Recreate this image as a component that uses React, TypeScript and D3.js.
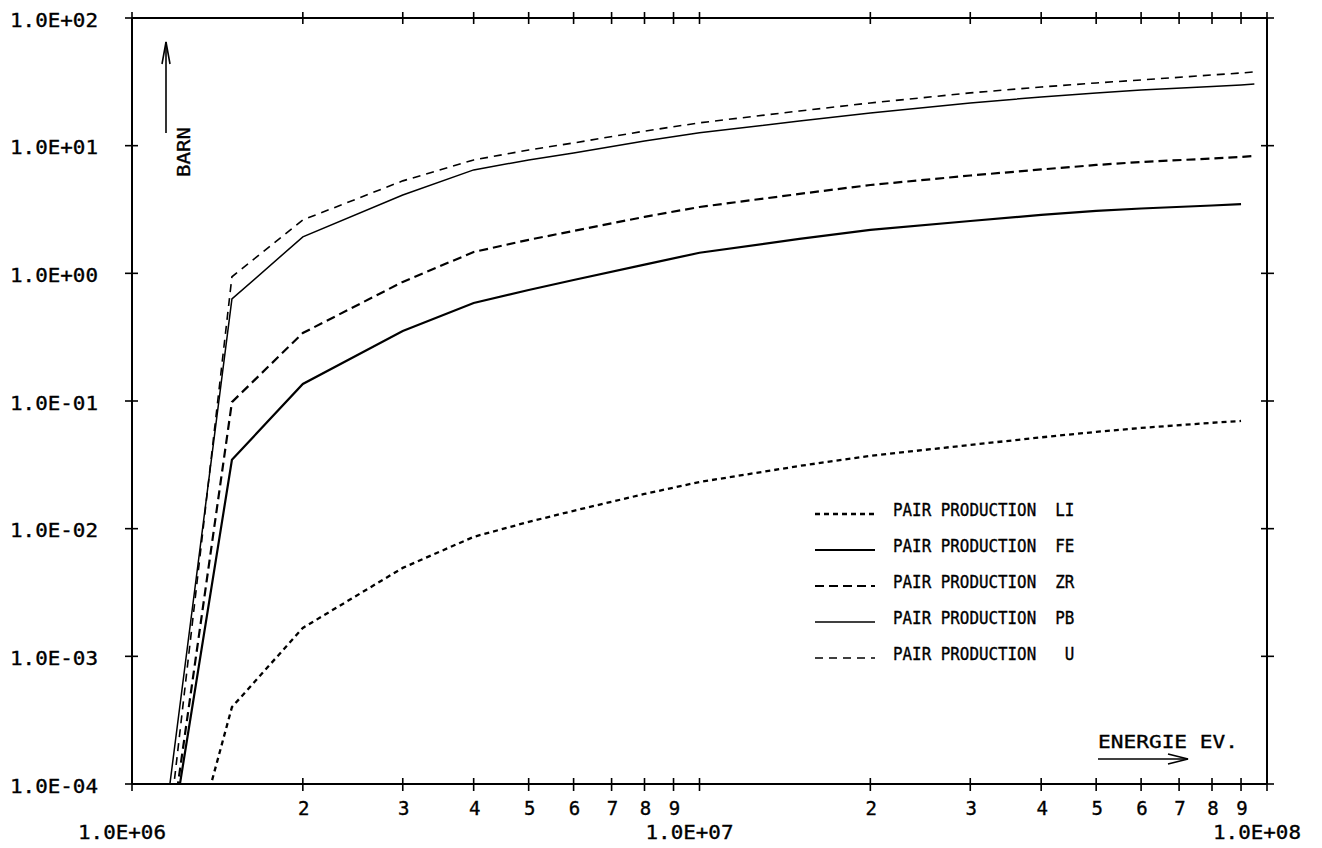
import React from 'react';
import * as d3 from 'd3';

const energies = [1.1e6, 1.5e6, 2e6, 3e6, 4e6, 5e6, 6e6, 8e6, 1e7, 1.5e7, 2e7, 3e7, 4e7, 5e7, 6e7, 8e7, 9e7, 9.5e7];
const li = [2.5e-6, 4.0e-4, 0.00167, 0.00493, 0.00863, 0.0113, 0.0138, 0.0187, 0.0232, 0.031, 0.0372, 0.0453, 0.0519, 0.0573, 0.0615, 0.0675, 0.0698, null];
const fe = [6.4e-6, 0.0346, 0.136, 0.354, 0.586, 0.741, 0.887, 1.17, 1.45, 1.86, 2.19, 2.57, 2.87, 3.08, 3.22, 3.4, 3.49, null];
const zr = [5.7e-6, 0.098, 0.341, 0.857, 1.47, 1.83, 2.15, 2.77, 3.31, 4.19, 4.92, 5.84, 6.51, 7.06, 7.45, 7.94, 8.17, 8.3];
const pb = [1.31e-5, 0.63, 1.93, 4.11, 6.46, 7.73, 8.77, 10.9, 12.6, 15.6, 18.0, 21.6, 24.1, 25.9, 27.3, 29.1, 29.9, 30.4];
const u = [5.4e-6, 0.94, 2.62, 5.3, 7.73, 9.25, 10.5, 13.0, 15.1, 18.7, 21.6, 25.9, 28.8, 31.0, 32.7, 35.8, 37.1, 37.8];

const seriesNames = ['LI', 'FE', 'ZR', 'PB', 'U'];
const legendLabels = ['PAIR PRODUCTION  LI', 'PAIR PRODUCTION  FE', 'PAIR PRODUCTION  ZR', 'PAIR PRODUCTION  PB', 'PAIR PRODUCTION   U'];
const xMajorTicks = [1e6, 1e7, 1e8];
const xMinorDigits = [2, 3, 4, 5, 6, 7, 8, 9];
const yMajorTicks = [1e-4, 1e-3, 1e-2, 1e-1, 1e0, 1e1, 1e2];

const styles: Record<string, { dash: string; width: number }> = {
  LI: { dash: '5,4', width: 2.3 },
  FE: { dash: '', width: 2.2 },
  ZR: { dash: '9,5', width: 2.2 },
  PB: { dash: '', width: 1.5 },
  U: { dash: '8,6', width: 1.6 },
};

const FONT = '"DejaVu Sans Mono", monospace';

function expLabel(v: number) {
  const e = Math.round(Math.log10(v));
  return `1.0E${e >= 0 ? '+' : '-'}${String(Math.abs(e)).padStart(2, '0')}`;
}

export default function App() {
  const left = 132, right = 1267, top = 18, bottom = 784;
  const x = d3.scaleLog().domain([1e6, 1e8]).range([left, right]);
  const y = d3.scaleLog().domain([1e-4, 1e2]).range([bottom, top]);
  const data: Record<string, (number | null)[]> = { LI: li, FE: fe, ZR: zr, PB: pb, U: u };
  const line = d3
    .line<[number, number | null]>()
    .defined((d) => d[1] != null)
    .x((d) => x(d[0]))
    .y((d) => y(d[1] as number));

  const minorTicks: number[] = [];
  for (const dec of [1e6, 1e7]) for (const m of xMinorDigits) minorTicks.push(dec * m);

  const legendY = [510, 546, 582, 618, 654];
  const textStroke = { stroke: '#000', strokeWidth: 0.35 };

  return (
    <svg width={1322} height={848} style={{ position: 'absolute', left: 0, top: 0, background: '#fff' }}>
      <rect x={0} y={0} width={1322} height={848} fill="#fff" />
      <defs>
        <clipPath id="plot">
          <rect x={left} y={top} width={right - left} height={bottom - top} />
        </clipPath>
      </defs>
      <g stroke="#000" strokeWidth={2} fill="none">
        <line x1={left} y1={top} x2={right} y2={top} />
        <line x1={left} y1={bottom} x2={right} y2={bottom} />
        <line x1={left} y1={top} x2={left} y2={bottom} />
        <line x1={right} y1={top} x2={right} y2={bottom} />
      </g>
      <g stroke="#000" strokeWidth={1.6}>
        {yMajorTicks.map((t) => (
          <g key={t}>
            <line x1={left - 7} x2={left + 6} y1={y(t)} y2={y(t)} />
            <line x1={right - 6} x2={right + 7} y1={y(t)} y2={y(t)} />
          </g>
        ))}
        {[...xMajorTicks, ...minorTicks].map((t) => (
          <g key={t}>
            <line x1={x(t)} x2={x(t)} y1={top - 6} y2={top + 6} />
            <line x1={x(t)} x2={x(t)} y1={bottom - 6} y2={bottom + 7} />
          </g>
        ))}
      </g>
      <g fontFamily={FONT} fontSize={19} fill="#000" {...textStroke}>
        {yMajorTicks.map((t) => (
          <text key={t} x={10} y={y(t) + 8.5} textLength={88} lengthAdjust="spacingAndGlyphs">
            {expLabel(t)}
          </text>
        ))}
        {xMajorTicks.map((t) => (
          <text key={t} x={x(t) - 54} y={839} textLength={88} lengthAdjust="spacingAndGlyphs">
            {expLabel(t)}
          </text>
        ))}
        {minorTicks.map((t) => (
          <text key={t} x={x(t) + 1} y={815} textAnchor="middle">
            {String(Math.round(t / Math.pow(10, Math.floor(Math.log10(t)))))}
          </text>
        ))}
      </g>
      <g clipPath="url(#plot)" fill="none" stroke="#000">
        {seriesNames.map((s) => (
          <path
            key={s}
            d={line(energies.map((e, i) => [e, data[s][i]] as [number, number | null])) || ''}
            strokeWidth={styles[s].width}
            strokeDasharray={styles[s].dash || undefined}
          />
        ))}
      </g>
      <g fontFamily={FONT} fontSize={17} fill="#000">
        {seriesNames.map((s, i) => (
          <g key={s}>
            <line
              x1={815}
              x2={875}
              y1={legendY[i] + 4}
              y2={legendY[i] + 4}
              stroke="#000"
              strokeWidth={styles[s].width}
              strokeDasharray={styles[s].dash || undefined}
            />
            <text
              x={893}
              y={legendY[i] + 6}
              textLength={legendLabels[i].length * 9.6 - 1}
              lengthAdjust="spacingAndGlyphs"
              style={{ whiteSpace: 'pre' }}
              {...textStroke}
            >
              {legendLabels[i]}
            </text>
          </g>
        ))}
      </g>
      <g stroke="#000" strokeWidth={1.6} fill="none">
        <line x1={166} y1={133} x2={166} y2={42} />
        <polyline points="162,64 166,42 170,64" />
        <line x1={1098} y1={759} x2={1188} y2={759} />
        <polyline points="1168,754 1188,759 1168,764" />
      </g>
      <text
        fontFamily={FONT}
        fontSize={18}
        transform="translate(190,152) rotate(-90)"
        textAnchor="middle"
        textLength={50}
        lengthAdjust="spacingAndGlyphs"
        {...textStroke}
      >
        BARN
      </text>
      <text
        fontFamily={FONT}
        fontSize={18}
        x={1098}
        y={748}
        textLength={140}
        lengthAdjust="spacingAndGlyphs"
        style={{ whiteSpace: 'pre' }}
        {...textStroke}
      >
        ENERGIE EV.
      </text>
    </svg>
  );
}
